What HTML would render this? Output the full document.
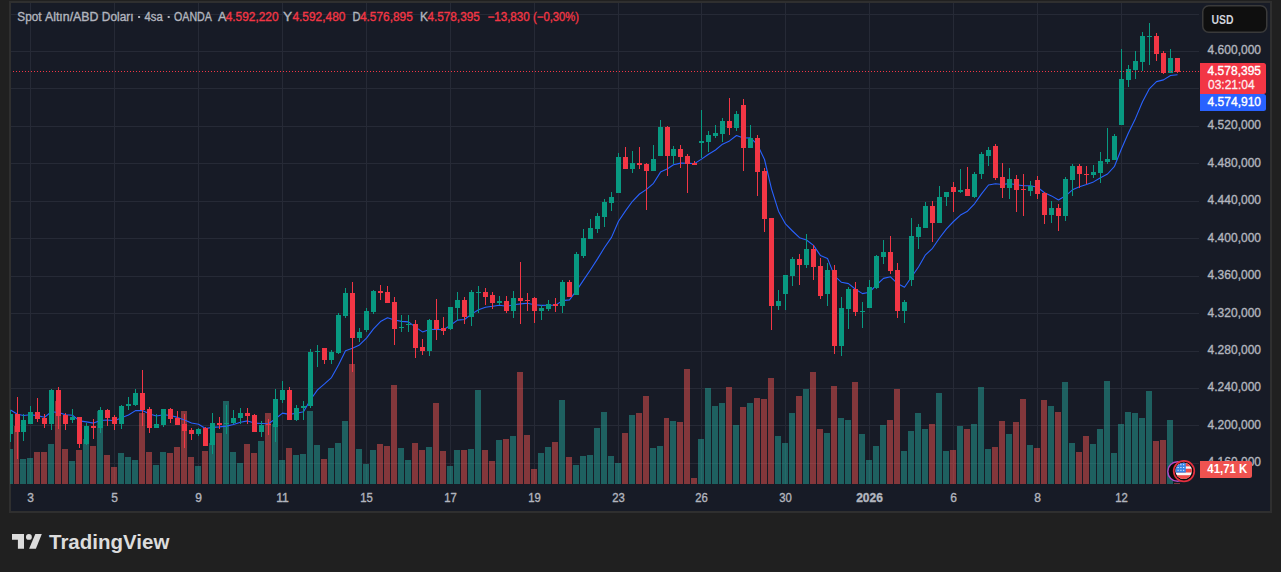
<!DOCTYPE html>
<html><head><meta charset="utf-8">
<style>
html,body{margin:0;padding:0;background:#202020;width:1281px;height:572px;overflow:hidden;}
#frame{position:absolute;left:9px;top:1px;width:1259px;height:508px;border:2px solid #2f2f2f;background:#171b26;}
svg{position:absolute;left:0;top:0;font-family:"Liberation Sans", sans-serif;}
text.t{stroke-width:0.35px;paint-order:stroke;}
</style></head><body>
<div id="frame"></div>
<svg width="1281" height="572" viewBox="0 0 1281 572">
<g shape-rendering="crispEdges">
<rect x="11" y="14" width="1188" height="1" fill="#262a36"/><rect x="11" y="51" width="1188" height="1" fill="#262a36"/><rect x="11" y="88" width="1188" height="1" fill="#262a36"/><rect x="11" y="126" width="1188" height="1" fill="#262a36"/><rect x="11" y="163" width="1188" height="1" fill="#262a36"/><rect x="11" y="201" width="1188" height="1" fill="#262a36"/><rect x="11" y="238" width="1188" height="1" fill="#262a36"/><rect x="11" y="276" width="1188" height="1" fill="#262a36"/><rect x="11" y="313" width="1188" height="1" fill="#262a36"/><rect x="11" y="351" width="1188" height="1" fill="#262a36"/><rect x="11" y="388" width="1188" height="1" fill="#262a36"/><rect x="11" y="425" width="1188" height="1" fill="#262a36"/><rect x="11" y="463" width="1188" height="1" fill="#262a36"/><rect x="30" y="3" width="1" height="481" fill="#262a36"/><rect x="114" y="3" width="1" height="481" fill="#262a36"/><rect x="198" y="3" width="1" height="481" fill="#262a36"/><rect x="282" y="3" width="1" height="481" fill="#262a36"/><rect x="366" y="3" width="1" height="481" fill="#262a36"/><rect x="450" y="3" width="1" height="481" fill="#262a36"/><rect x="534" y="3" width="1" height="481" fill="#262a36"/><rect x="618" y="3" width="1" height="481" fill="#262a36"/><rect x="701" y="3" width="1" height="481" fill="#262a36"/><rect x="785" y="3" width="1" height="481" fill="#262a36"/><rect x="869" y="3" width="1" height="481" fill="#262a36"/><rect x="953" y="3" width="1" height="481" fill="#262a36"/><rect x="1037" y="3" width="1" height="481" fill="#262a36"/><rect x="1121" y="3" width="1" height="481" fill="#262a36"/><rect x="10" y="449" width="3" height="35" fill="rgba(38,166,154,0.5)"/><rect x="14" y="426" width="5" height="58" fill="rgba(239,83,80,0.5)"/><rect x="20" y="459" width="6" height="25" fill="rgba(38,166,154,0.5)"/><rect x="27" y="458" width="6" height="26" fill="rgba(38,166,154,0.5)"/><rect x="34" y="452" width="6" height="32" fill="rgba(239,83,80,0.5)"/><rect x="41" y="452" width="6" height="32" fill="rgba(239,83,80,0.5)"/><rect x="48" y="444" width="6" height="40" fill="rgba(38,166,154,0.5)"/><rect x="55" y="401" width="6" height="83" fill="rgba(239,83,80,0.5)"/><rect x="62" y="449" width="6" height="35" fill="rgba(239,83,80,0.5)"/><rect x="69" y="461" width="6" height="23" fill="rgba(38,166,154,0.5)"/><rect x="76" y="450" width="6" height="34" fill="rgba(239,83,80,0.5)"/><rect x="83" y="439" width="6" height="45" fill="rgba(38,166,154,0.5)"/><rect x="90" y="446" width="6" height="38" fill="rgba(239,83,80,0.5)"/><rect x="97" y="411" width="6" height="73" fill="rgba(38,166,154,0.5)"/><rect x="104" y="455" width="6" height="29" fill="rgba(239,83,80,0.5)"/><rect x="111" y="467" width="6" height="17" fill="rgba(239,83,80,0.5)"/><rect x="118" y="453" width="6" height="31" fill="rgba(38,166,154,0.5)"/><rect x="125" y="457" width="6" height="27" fill="rgba(38,166,154,0.5)"/><rect x="132" y="460" width="6" height="24" fill="rgba(38,166,154,0.5)"/><rect x="139" y="413" width="6" height="71" fill="rgba(239,83,80,0.5)"/><rect x="146" y="452" width="6" height="32" fill="rgba(239,83,80,0.5)"/><rect x="153" y="465" width="6" height="19" fill="rgba(38,166,154,0.5)"/><rect x="160" y="452" width="6" height="32" fill="rgba(38,166,154,0.5)"/><rect x="167" y="453" width="6" height="31" fill="rgba(239,83,80,0.5)"/><rect x="174" y="447" width="6" height="37" fill="rgba(239,83,80,0.5)"/><rect x="181" y="411" width="6" height="73" fill="rgba(239,83,80,0.5)"/><rect x="188" y="457" width="6" height="27" fill="rgba(239,83,80,0.5)"/><rect x="195" y="466" width="6" height="18" fill="rgba(38,166,154,0.5)"/><rect x="202" y="451" width="6" height="33" fill="rgba(239,83,80,0.5)"/><rect x="209" y="443" width="6" height="41" fill="rgba(38,166,154,0.5)"/><rect x="216" y="433" width="6" height="51" fill="rgba(239,83,80,0.5)"/><rect x="223" y="401" width="6" height="83" fill="rgba(38,166,154,0.5)"/><rect x="230" y="452" width="6" height="32" fill="rgba(38,166,154,0.5)"/><rect x="237" y="463" width="6" height="21" fill="rgba(38,166,154,0.5)"/><rect x="244" y="444" width="6" height="40" fill="rgba(239,83,80,0.5)"/><rect x="251" y="453" width="6" height="31" fill="rgba(239,83,80,0.5)"/><rect x="258" y="441" width="6" height="43" fill="rgba(38,166,154,0.5)"/><rect x="265" y="413" width="6" height="71" fill="rgba(239,83,80,0.5)"/><rect x="272" y="424" width="6" height="60" fill="rgba(38,166,154,0.5)"/><rect x="279" y="460" width="6" height="24" fill="rgba(38,166,154,0.5)"/><rect x="286" y="448" width="6" height="36" fill="rgba(239,83,80,0.5)"/><rect x="293" y="455" width="6" height="29" fill="rgba(38,166,154,0.5)"/><rect x="300" y="454" width="6" height="30" fill="rgba(38,166,154,0.5)"/><rect x="307" y="411" width="6" height="73" fill="rgba(38,166,154,0.5)"/><rect x="314" y="445" width="6" height="39" fill="rgba(38,166,154,0.5)"/><rect x="321" y="459" width="6" height="25" fill="rgba(239,83,80,0.5)"/><rect x="328" y="448" width="6" height="36" fill="rgba(38,166,154,0.5)"/><rect x="335" y="443" width="6" height="41" fill="rgba(38,166,154,0.5)"/><rect x="342" y="421" width="6" height="63" fill="rgba(38,166,154,0.5)"/><rect x="349" y="364" width="6" height="120" fill="rgba(239,83,80,0.5)"/><rect x="356" y="449" width="6" height="35" fill="rgba(38,166,154,0.5)"/><rect x="363" y="464" width="6" height="20" fill="rgba(38,166,154,0.5)"/><rect x="370" y="450" width="6" height="34" fill="rgba(38,166,154,0.5)"/><rect x="377" y="444" width="6" height="40" fill="rgba(239,83,80,0.5)"/><rect x="384" y="446" width="6" height="38" fill="rgba(239,83,80,0.5)"/><rect x="391" y="385" width="6" height="99" fill="rgba(239,83,80,0.5)"/><rect x="398" y="448" width="6" height="36" fill="rgba(38,166,154,0.5)"/><rect x="405" y="460" width="6" height="24" fill="rgba(38,166,154,0.5)"/><rect x="412" y="443" width="6" height="41" fill="rgba(239,83,80,0.5)"/><rect x="419" y="450" width="6" height="34" fill="rgba(239,83,80,0.5)"/><rect x="426" y="447" width="6" height="37" fill="rgba(38,166,154,0.5)"/><rect x="433" y="403" width="6" height="81" fill="rgba(239,83,80,0.5)"/><rect x="440" y="451" width="6" height="33" fill="rgba(239,83,80,0.5)"/><rect x="447" y="466" width="6" height="18" fill="rgba(38,166,154,0.5)"/><rect x="454" y="450" width="6" height="34" fill="rgba(38,166,154,0.5)"/><rect x="461" y="450" width="6" height="34" fill="rgba(239,83,80,0.5)"/><rect x="468" y="449" width="6" height="35" fill="rgba(38,166,154,0.5)"/><rect x="475" y="390" width="6" height="94" fill="rgba(38,166,154,0.5)"/><rect x="482" y="450" width="6" height="34" fill="rgba(239,83,80,0.5)"/><rect x="489" y="461" width="6" height="23" fill="rgba(239,83,80,0.5)"/><rect x="496" y="440" width="6" height="44" fill="rgba(38,166,154,0.5)"/><rect x="503" y="439" width="6" height="45" fill="rgba(239,83,80,0.5)"/><rect x="510" y="436" width="6" height="48" fill="rgba(38,166,154,0.5)"/><rect x="517" y="372" width="6" height="112" fill="rgba(239,83,80,0.5)"/><rect x="524" y="435" width="6" height="49" fill="rgba(239,83,80,0.5)"/><rect x="531" y="469" width="6" height="15" fill="rgba(239,83,80,0.5)"/><rect x="538" y="453" width="6" height="31" fill="rgba(38,166,154,0.5)"/><rect x="545" y="447" width="6" height="37" fill="rgba(38,166,154,0.5)"/><rect x="552" y="442" width="6" height="42" fill="rgba(239,83,80,0.5)"/><rect x="559" y="400" width="6" height="84" fill="rgba(38,166,154,0.5)"/><rect x="566" y="457" width="6" height="27" fill="rgba(239,83,80,0.5)"/><rect x="573" y="465" width="6" height="19" fill="rgba(38,166,154,0.5)"/><rect x="580" y="456" width="6" height="28" fill="rgba(38,166,154,0.5)"/><rect x="587" y="455" width="6" height="29" fill="rgba(38,166,154,0.5)"/><rect x="594" y="428" width="6" height="56" fill="rgba(38,166,154,0.5)"/><rect x="601" y="412" width="6" height="72" fill="rgba(38,166,154,0.5)"/><rect x="608" y="456" width="6" height="28" fill="rgba(38,166,154,0.5)"/><rect x="615" y="463" width="6" height="21" fill="rgba(38,166,154,0.5)"/><rect x="622" y="433" width="6" height="51" fill="rgba(239,83,80,0.5)"/><rect x="629" y="415" width="6" height="69" fill="rgba(38,166,154,0.5)"/><rect x="636" y="413" width="6" height="71" fill="rgba(239,83,80,0.5)"/><rect x="643" y="396" width="6" height="88" fill="rgba(239,83,80,0.5)"/><rect x="650" y="448" width="6" height="36" fill="rgba(38,166,154,0.5)"/><rect x="657" y="446" width="6" height="38" fill="rgba(38,166,154,0.5)"/><rect x="664" y="418" width="5" height="66" fill="rgba(239,83,80,0.5)"/><rect x="670" y="421" width="6" height="63" fill="rgba(38,166,154,0.5)"/><rect x="677" y="422" width="6" height="62" fill="rgba(239,83,80,0.5)"/><rect x="684" y="369" width="6" height="115" fill="rgba(239,83,80,0.5)"/><rect x="691" y="478" width="6" height="6" fill="rgba(239,83,80,0.5)"/><rect x="698" y="439" width="6" height="45" fill="rgba(38,166,154,0.5)"/><rect x="705" y="388" width="6" height="96" fill="rgba(38,166,154,0.5)"/><rect x="712" y="406" width="6" height="78" fill="rgba(38,166,154,0.5)"/><rect x="719" y="403" width="6" height="81" fill="rgba(38,166,154,0.5)"/><rect x="726" y="387" width="6" height="97" fill="rgba(239,83,80,0.5)"/><rect x="733" y="425" width="6" height="59" fill="rgba(38,166,154,0.5)"/><rect x="740" y="407" width="6" height="77" fill="rgba(239,83,80,0.5)"/><rect x="747" y="403" width="6" height="81" fill="rgba(38,166,154,0.5)"/><rect x="754" y="398" width="6" height="86" fill="rgba(239,83,80,0.5)"/><rect x="761" y="399" width="6" height="85" fill="rgba(239,83,80,0.5)"/><rect x="768" y="378" width="6" height="106" fill="rgba(239,83,80,0.5)"/><rect x="775" y="436" width="6" height="48" fill="rgba(38,166,154,0.5)"/><rect x="782" y="443" width="6" height="41" fill="rgba(38,166,154,0.5)"/><rect x="789" y="413" width="6" height="71" fill="rgba(38,166,154,0.5)"/><rect x="796" y="396" width="6" height="88" fill="rgba(239,83,80,0.5)"/><rect x="803" y="389" width="6" height="95" fill="rgba(38,166,154,0.5)"/><rect x="810" y="372" width="6" height="112" fill="rgba(239,83,80,0.5)"/><rect x="817" y="429" width="6" height="55" fill="rgba(239,83,80,0.5)"/><rect x="824" y="433" width="6" height="51" fill="rgba(38,166,154,0.5)"/><rect x="831" y="386" width="6" height="98" fill="rgba(239,83,80,0.5)"/><rect x="838" y="418" width="6" height="66" fill="rgba(38,166,154,0.5)"/><rect x="845" y="420" width="6" height="64" fill="rgba(38,166,154,0.5)"/><rect x="852" y="382" width="6" height="102" fill="rgba(239,83,80,0.5)"/><rect x="859" y="434" width="6" height="50" fill="rgba(38,166,154,0.5)"/><rect x="866" y="460" width="6" height="24" fill="rgba(38,166,154,0.5)"/><rect x="873" y="446" width="6" height="38" fill="rgba(38,166,154,0.5)"/><rect x="880" y="425" width="6" height="59" fill="rgba(38,166,154,0.5)"/><rect x="887" y="420" width="6" height="64" fill="rgba(239,83,80,0.5)"/><rect x="894" y="389" width="6" height="95" fill="rgba(239,83,80,0.5)"/><rect x="901" y="451" width="6" height="33" fill="rgba(38,166,154,0.5)"/><rect x="908" y="431" width="6" height="53" fill="rgba(38,166,154,0.5)"/><rect x="915" y="413" width="6" height="71" fill="rgba(38,166,154,0.5)"/><rect x="922" y="429" width="6" height="55" fill="rgba(38,166,154,0.5)"/><rect x="929" y="424" width="6" height="60" fill="rgba(239,83,80,0.5)"/><rect x="936" y="393" width="6" height="91" fill="rgba(38,166,154,0.5)"/><rect x="943" y="451" width="6" height="33" fill="rgba(38,166,154,0.5)"/><rect x="950" y="450" width="6" height="34" fill="rgba(239,83,80,0.5)"/><rect x="957" y="426" width="6" height="58" fill="rgba(38,166,154,0.5)"/><rect x="964" y="429" width="6" height="55" fill="rgba(239,83,80,0.5)"/><rect x="971" y="424" width="6" height="60" fill="rgba(38,166,154,0.5)"/><rect x="978" y="387" width="6" height="97" fill="rgba(38,166,154,0.5)"/><rect x="985" y="449" width="6" height="35" fill="rgba(38,166,154,0.5)"/><rect x="992" y="447" width="6" height="37" fill="rgba(239,83,80,0.5)"/><rect x="999" y="421" width="6" height="63" fill="rgba(239,83,80,0.5)"/><rect x="1006" y="434" width="6" height="50" fill="rgba(38,166,154,0.5)"/><rect x="1013" y="422" width="6" height="62" fill="rgba(239,83,80,0.5)"/><rect x="1020" y="399" width="6" height="85" fill="rgba(239,83,80,0.5)"/><rect x="1027" y="445" width="6" height="39" fill="rgba(38,166,154,0.5)"/><rect x="1034" y="448" width="6" height="36" fill="rgba(239,83,80,0.5)"/><rect x="1041" y="400" width="6" height="84" fill="rgba(239,83,80,0.5)"/><rect x="1048" y="406" width="6" height="78" fill="rgba(38,166,154,0.5)"/><rect x="1055" y="412" width="6" height="72" fill="rgba(239,83,80,0.5)"/><rect x="1062" y="382" width="6" height="102" fill="rgba(38,166,154,0.5)"/><rect x="1069" y="443" width="6" height="41" fill="rgba(38,166,154,0.5)"/><rect x="1076" y="452" width="6" height="32" fill="rgba(239,83,80,0.5)"/><rect x="1083" y="436" width="6" height="48" fill="rgba(239,83,80,0.5)"/><rect x="1090" y="444" width="6" height="40" fill="rgba(38,166,154,0.5)"/><rect x="1097" y="429" width="6" height="55" fill="rgba(38,166,154,0.5)"/><rect x="1104" y="381" width="6" height="103" fill="rgba(38,166,154,0.5)"/><rect x="1111" y="453" width="6" height="31" fill="rgba(38,166,154,0.5)"/><rect x="1118" y="424" width="6" height="60" fill="rgba(38,166,154,0.5)"/><rect x="1125" y="412" width="6" height="72" fill="rgba(38,166,154,0.5)"/><rect x="1132" y="413" width="6" height="71" fill="rgba(38,166,154,0.5)"/><rect x="1139" y="418" width="6" height="66" fill="rgba(38,166,154,0.5)"/><rect x="1146" y="391" width="6" height="93" fill="rgba(38,166,154,0.5)"/><rect x="1153" y="441" width="6" height="43" fill="rgba(239,83,80,0.5)"/><rect x="1160" y="440" width="6" height="44" fill="rgba(239,83,80,0.5)"/><rect x="1167" y="420" width="6" height="64" fill="rgba(38,166,154,0.5)"/><rect x="1174" y="483" width="6" height="1" fill="rgba(239,83,80,0.5)"/>
</g>
<polyline points="10.5,410.0 17.5,414.3 23.5,415.5 30.5,414.8 37.5,415.6 44.5,417.2 51.5,411.7 58.5,412.5 65.5,414.8 72.5,415.2 79.5,420.9 86.5,421.9 93.5,423.1 100.5,420.5 107.5,420.0 114.5,420.8 121.5,417.8 128.5,415.0 135.5,410.6 142.5,410.5 149.5,414.0 156.5,416.0 163.5,414.7 170.5,415.5 177.5,417.4 184.5,420.1 191.5,423.0 198.5,424.2 205.5,428.5 212.5,427.4 219.5,426.9 226.5,426.1 233.5,424.5 240.5,422.2 247.5,420.9 254.5,423.1 261.5,423.5 268.5,423.8 275.5,418.8 282.5,413.1 289.5,414.4 296.5,413.2 303.5,411.8 310.5,399.7 317.5,389.9 324.5,383.9 331.5,377.6 338.5,365.1 345.5,350.7 352.5,348.2 359.5,344.9 366.5,338.2 373.5,328.8 380.5,321.6 387.5,317.8 394.5,320.0 401.5,321.4 408.5,321.9 415.5,327.1 422.5,331.9 429.5,329.5 436.5,329.4 443.5,329.7 450.5,325.2 457.5,320.1 464.5,319.5 471.5,314.1 478.5,309.7 485.5,307.2 492.5,306.3 499.5,305.2 506.5,306.3 513.5,304.7 520.5,303.9 527.5,303.3 534.5,304.8 541.5,305.4 548.5,305.2 555.5,305.3 562.5,300.6 569.5,299.9 576.5,290.6 583.5,280.1 590.5,269.7 597.5,258.9 604.5,247.5 611.5,237.4 618.5,221.3 625.5,210.9 632.5,201.3 639.5,194.0 646.5,189.4 653.5,183.3 660.5,172.1 667.5,168.8 673.5,164.7 680.5,163.1 687.5,163.3 694.5,163.6 701.5,159.1 708.5,154.2 715.5,150.0 722.5,144.2 729.5,140.9 736.5,135.5 743.5,138.0 750.5,137.9 757.5,144.7 764.5,159.5 771.5,188.8 778.5,211.2 785.5,223.9 792.5,231.0 799.5,237.7 806.5,240.0 813.5,245.4 820.5,255.6 827.5,258.4 834.5,275.9 841.5,282.3 848.5,283.6 855.5,289.3 862.5,293.6 869.5,292.2 876.5,285.0 883.5,278.4 890.5,276.8 897.5,283.6 904.5,287.3 911.5,277.0 918.5,267.0 925.5,254.8 932.5,248.3 939.5,238.0 946.5,228.8 953.5,221.5 960.5,215.1 967.5,211.2 974.5,203.8 981.5,193.9 988.5,185.0 995.5,183.7 1002.5,184.5 1009.5,183.5 1016.5,184.7 1023.5,185.8 1030.5,185.8 1037.5,187.3 1044.5,192.8 1051.5,195.9 1058.5,200.0 1065.5,195.8 1072.5,189.8 1079.5,186.7 1086.5,184.4 1093.5,181.9 1100.5,177.7 1107.5,174.0 1114.5,166.3 1121.5,148.8 1128.5,132.8 1135.5,118.4 1142.5,101.8 1149.5,88.6 1156.5,81.6 1163.5,79.9 1170.5,75.5 1177.5,74.8" fill="none" stroke="#2962ff" stroke-width="1.1" stroke-linejoin="round"/>
<g shape-rendering="crispEdges">
<rect x="10" y="410" width="1" height="32" fill="#089981"/><rect x="10" y="414" width="3" height="20" fill="#089981"/><rect x="17" y="397" width="1" height="62" fill="#f23645"/><rect x="15" y="414" width="5" height="18" fill="#f23645"/><rect x="23" y="414" width="1" height="27" fill="#089981"/><rect x="21" y="420" width="5" height="12" fill="#089981"/><rect x="30" y="406" width="1" height="18" fill="#089981"/><rect x="28" y="412" width="5" height="12" fill="#089981"/><rect x="37" y="398" width="1" height="24" fill="#f23645"/><rect x="35" y="412" width="5" height="7" fill="#f23645"/><rect x="44" y="414" width="1" height="14" fill="#f23645"/><rect x="42" y="418" width="5" height="6" fill="#f23645"/><rect x="51" y="389" width="1" height="41" fill="#089981"/><rect x="49" y="390" width="5" height="34" fill="#089981"/><rect x="58" y="387" width="1" height="42" fill="#f23645"/><rect x="56" y="390" width="5" height="26" fill="#f23645"/><rect x="65" y="413" width="1" height="17" fill="#f23645"/><rect x="63" y="415" width="5" height="9" fill="#f23645"/><rect x="72" y="409" width="1" height="14" fill="#089981"/><rect x="70" y="417" width="5" height="3" fill="#089981"/><rect x="79" y="417" width="1" height="31" fill="#f23645"/><rect x="77" y="417" width="5" height="27" fill="#f23645"/><rect x="86" y="423" width="1" height="22" fill="#089981"/><rect x="84" y="426" width="5" height="18" fill="#089981"/><rect x="93" y="419" width="1" height="20" fill="#f23645"/><rect x="91" y="426" width="5" height="2" fill="#f23645"/><rect x="100" y="407" width="1" height="26" fill="#089981"/><rect x="98" y="410" width="5" height="18" fill="#089981"/><rect x="107" y="409" width="1" height="17" fill="#f23645"/><rect x="105" y="410" width="5" height="8" fill="#f23645"/><rect x="114" y="415" width="1" height="15" fill="#f23645"/><rect x="112" y="417" width="5" height="7" fill="#f23645"/><rect x="121" y="405" width="1" height="24" fill="#089981"/><rect x="119" y="406" width="5" height="18" fill="#089981"/><rect x="128" y="397" width="1" height="13" fill="#089981"/><rect x="126" y="404" width="5" height="2" fill="#089981"/><rect x="135" y="389" width="1" height="17" fill="#089981"/><rect x="133" y="393" width="5" height="12" fill="#089981"/><rect x="142" y="370" width="1" height="56" fill="#f23645"/><rect x="140" y="393" width="5" height="17" fill="#f23645"/><rect x="149" y="407" width="1" height="26" fill="#f23645"/><rect x="147" y="409" width="5" height="19" fill="#f23645"/><rect x="156" y="414" width="1" height="14" fill="#089981"/><rect x="154" y="424" width="5" height="4" fill="#089981"/><rect x="163" y="409" width="1" height="18" fill="#089981"/><rect x="161" y="409" width="5" height="16" fill="#089981"/><rect x="170" y="408" width="1" height="15" fill="#f23645"/><rect x="168" y="409" width="5" height="10" fill="#f23645"/><rect x="177" y="411" width="1" height="14" fill="#f23645"/><rect x="175" y="418" width="5" height="7" fill="#f23645"/><rect x="184" y="414" width="1" height="34" fill="#f23645"/><rect x="182" y="424" width="5" height="7" fill="#f23645"/><rect x="191" y="428" width="1" height="12" fill="#f23645"/><rect x="189" y="430" width="5" height="4" fill="#f23645"/><rect x="198" y="428" width="1" height="8" fill="#089981"/><rect x="196" y="429" width="5" height="5" fill="#089981"/><rect x="205" y="427" width="1" height="19" fill="#f23645"/><rect x="203" y="428" width="5" height="18" fill="#f23645"/><rect x="212" y="413" width="1" height="41" fill="#089981"/><rect x="210" y="423" width="5" height="22" fill="#089981"/><rect x="219" y="417" width="1" height="12" fill="#f23645"/><rect x="217" y="423" width="5" height="2" fill="#f23645"/><rect x="226" y="405" width="1" height="29" fill="#089981"/><rect x="224" y="423" width="5" height="1" fill="#089981"/><rect x="233" y="410" width="1" height="14" fill="#089981"/><rect x="231" y="418" width="5" height="5" fill="#089981"/><rect x="240" y="408" width="1" height="16" fill="#089981"/><rect x="238" y="413" width="5" height="5" fill="#089981"/><rect x="247" y="408" width="1" height="16" fill="#f23645"/><rect x="245" y="413" width="5" height="3" fill="#f23645"/><rect x="254" y="414" width="1" height="18" fill="#f23645"/><rect x="252" y="415" width="5" height="17" fill="#f23645"/><rect x="261" y="421" width="1" height="16" fill="#089981"/><rect x="259" y="425" width="5" height="7" fill="#089981"/><rect x="268" y="419" width="1" height="16" fill="#f23645"/><rect x="266" y="424" width="5" height="1" fill="#f23645"/><rect x="275" y="389" width="1" height="53" fill="#089981"/><rect x="273" y="399" width="5" height="28" fill="#089981"/><rect x="282" y="381" width="1" height="22" fill="#089981"/><rect x="280" y="390" width="5" height="10" fill="#089981"/><rect x="289" y="387" width="1" height="33" fill="#f23645"/><rect x="287" y="390" width="5" height="30" fill="#f23645"/><rect x="296" y="405" width="1" height="16" fill="#089981"/><rect x="294" y="408" width="5" height="12" fill="#089981"/><rect x="303" y="401" width="1" height="19" fill="#089981"/><rect x="301" y="406" width="5" height="2" fill="#089981"/><rect x="310" y="349" width="1" height="59" fill="#089981"/><rect x="308" y="352" width="5" height="54" fill="#089981"/><rect x="317" y="345" width="1" height="22" fill="#089981"/><rect x="315" y="351" width="5" height="1" fill="#089981"/><rect x="324" y="348" width="1" height="16" fill="#f23645"/><rect x="322" y="348" width="5" height="12" fill="#f23645"/><rect x="331" y="350" width="1" height="14" fill="#089981"/><rect x="329" y="352" width="5" height="8" fill="#089981"/><rect x="338" y="313" width="1" height="41" fill="#089981"/><rect x="336" y="315" width="5" height="38" fill="#089981"/><rect x="345" y="288" width="1" height="30" fill="#089981"/><rect x="343" y="293" width="5" height="23" fill="#089981"/><rect x="352" y="282" width="1" height="90" fill="#f23645"/><rect x="350" y="293" width="5" height="45" fill="#f23645"/><rect x="359" y="328" width="1" height="14" fill="#089981"/><rect x="357" y="332" width="5" height="6" fill="#089981"/><rect x="366" y="308" width="1" height="24" fill="#089981"/><rect x="364" y="311" width="5" height="19" fill="#089981"/><rect x="373" y="290" width="1" height="24" fill="#089981"/><rect x="371" y="291" width="5" height="21" fill="#089981"/><rect x="380" y="285" width="1" height="15" fill="#f23645"/><rect x="378" y="291" width="5" height="2" fill="#f23645"/><rect x="387" y="286" width="1" height="17" fill="#f23645"/><rect x="385" y="292" width="5" height="11" fill="#f23645"/><rect x="394" y="297" width="1" height="48" fill="#f23645"/><rect x="392" y="302" width="5" height="27" fill="#f23645"/><rect x="401" y="315" width="1" height="17" fill="#089981"/><rect x="399" y="327" width="5" height="1" fill="#089981"/><rect x="408" y="315" width="1" height="17" fill="#089981"/><rect x="406" y="324" width="5" height="1" fill="#089981"/><rect x="415" y="320" width="1" height="38" fill="#f23645"/><rect x="413" y="324" width="5" height="24" fill="#f23645"/><rect x="422" y="339" width="1" height="16" fill="#f23645"/><rect x="420" y="347" width="5" height="4" fill="#f23645"/><rect x="429" y="319" width="1" height="37" fill="#089981"/><rect x="427" y="320" width="5" height="31" fill="#089981"/><rect x="436" y="299" width="1" height="41" fill="#f23645"/><rect x="434" y="320" width="5" height="9" fill="#f23645"/><rect x="443" y="317" width="1" height="18" fill="#f23645"/><rect x="441" y="328" width="5" height="3" fill="#f23645"/><rect x="450" y="307" width="1" height="23" fill="#089981"/><rect x="448" y="307" width="5" height="22" fill="#089981"/><rect x="457" y="292" width="1" height="29" fill="#089981"/><rect x="455" y="300" width="5" height="8" fill="#089981"/><rect x="464" y="297" width="1" height="27" fill="#f23645"/><rect x="462" y="300" width="5" height="17" fill="#f23645"/><rect x="471" y="290" width="1" height="36" fill="#089981"/><rect x="469" y="292" width="5" height="25" fill="#089981"/><rect x="478" y="286" width="1" height="27" fill="#089981"/><rect x="476" y="292" width="5" height="1" fill="#089981"/><rect x="485" y="288" width="1" height="17" fill="#f23645"/><rect x="483" y="292" width="5" height="5" fill="#f23645"/><rect x="492" y="292" width="1" height="17" fill="#f23645"/><rect x="490" y="295" width="5" height="8" fill="#f23645"/><rect x="499" y="296" width="1" height="9" fill="#089981"/><rect x="497" y="301" width="5" height="2" fill="#089981"/><rect x="506" y="296" width="1" height="17" fill="#f23645"/><rect x="504" y="301" width="5" height="10" fill="#f23645"/><rect x="513" y="291" width="1" height="27" fill="#089981"/><rect x="511" y="298" width="5" height="13" fill="#089981"/><rect x="520" y="262" width="1" height="62" fill="#f23645"/><rect x="518" y="298" width="5" height="3" fill="#f23645"/><rect x="527" y="293" width="1" height="18" fill="#f23645"/><rect x="525" y="300" width="5" height="1" fill="#f23645"/><rect x="534" y="297" width="1" height="26" fill="#f23645"/><rect x="532" y="298" width="5" height="13" fill="#f23645"/><rect x="541" y="305" width="1" height="15" fill="#089981"/><rect x="539" y="308" width="5" height="3" fill="#089981"/><rect x="548" y="300" width="1" height="11" fill="#089981"/><rect x="546" y="304" width="5" height="5" fill="#089981"/><rect x="555" y="298" width="1" height="14" fill="#f23645"/><rect x="553" y="304" width="5" height="2" fill="#f23645"/><rect x="562" y="280" width="1" height="33" fill="#089981"/><rect x="560" y="282" width="5" height="24" fill="#089981"/><rect x="569" y="280" width="1" height="17" fill="#f23645"/><rect x="567" y="282" width="5" height="15" fill="#f23645"/><rect x="576" y="252" width="1" height="43" fill="#089981"/><rect x="574" y="254" width="5" height="41" fill="#089981"/><rect x="583" y="229" width="1" height="29" fill="#089981"/><rect x="581" y="238" width="5" height="18" fill="#089981"/><rect x="590" y="219" width="1" height="20" fill="#089981"/><rect x="588" y="228" width="5" height="11" fill="#089981"/><rect x="597" y="213" width="1" height="20" fill="#089981"/><rect x="595" y="216" width="5" height="13" fill="#089981"/><rect x="604" y="199" width="1" height="28" fill="#089981"/><rect x="602" y="202" width="5" height="15" fill="#089981"/><rect x="611" y="192" width="1" height="19" fill="#089981"/><rect x="609" y="197" width="5" height="6" fill="#089981"/><rect x="618" y="153" width="1" height="40" fill="#089981"/><rect x="616" y="157" width="5" height="36" fill="#089981"/><rect x="625" y="147" width="1" height="22" fill="#f23645"/><rect x="623" y="157" width="5" height="12" fill="#f23645"/><rect x="632" y="151" width="1" height="22" fill="#089981"/><rect x="630" y="163" width="5" height="6" fill="#089981"/><rect x="639" y="147" width="1" height="22" fill="#f23645"/><rect x="637" y="163" width="5" height="2" fill="#f23645"/><rect x="646" y="163" width="1" height="47" fill="#f23645"/><rect x="644" y="164" width="5" height="7" fill="#f23645"/><rect x="653" y="145" width="1" height="26" fill="#089981"/><rect x="651" y="159" width="5" height="12" fill="#089981"/><rect x="660" y="120" width="1" height="36" fill="#089981"/><rect x="658" y="127" width="5" height="29" fill="#089981"/><rect x="667" y="126" width="1" height="50" fill="#f23645"/><rect x="665" y="127" width="5" height="29" fill="#f23645"/><rect x="673" y="146" width="1" height="18" fill="#089981"/><rect x="671" y="149" width="5" height="7" fill="#089981"/><rect x="680" y="145" width="1" height="23" fill="#f23645"/><rect x="678" y="149" width="5" height="8" fill="#f23645"/><rect x="687" y="154" width="1" height="39" fill="#f23645"/><rect x="685" y="156" width="5" height="8" fill="#f23645"/><rect x="694" y="161" width="1" height="4" fill="#f23645"/><rect x="692" y="163" width="5" height="2" fill="#f23645"/><rect x="701" y="110" width="1" height="48" fill="#089981"/><rect x="699" y="141" width="5" height="2" fill="#089981"/><rect x="708" y="131" width="1" height="21" fill="#089981"/><rect x="706" y="135" width="5" height="7" fill="#089981"/><rect x="715" y="125" width="1" height="13" fill="#089981"/><rect x="713" y="133" width="5" height="3" fill="#089981"/><rect x="722" y="118" width="1" height="24" fill="#089981"/><rect x="720" y="121" width="5" height="13" fill="#089981"/><rect x="729" y="98" width="1" height="37" fill="#f23645"/><rect x="727" y="121" width="5" height="7" fill="#f23645"/><rect x="736" y="111" width="1" height="20" fill="#089981"/><rect x="734" y="114" width="5" height="14" fill="#089981"/><rect x="743" y="99" width="1" height="72" fill="#f23645"/><rect x="741" y="105" width="5" height="43" fill="#f23645"/><rect x="750" y="125" width="1" height="23" fill="#089981"/><rect x="748" y="138" width="5" height="10" fill="#089981"/><rect x="757" y="135" width="1" height="61" fill="#f23645"/><rect x="755" y="138" width="5" height="34" fill="#f23645"/><rect x="764" y="168" width="1" height="64" fill="#f23645"/><rect x="762" y="171" width="5" height="48" fill="#f23645"/><rect x="771" y="218" width="1" height="112" fill="#f23645"/><rect x="769" y="218" width="5" height="88" fill="#f23645"/><rect x="778" y="290" width="1" height="20" fill="#089981"/><rect x="776" y="301" width="5" height="5" fill="#089981"/><rect x="785" y="275" width="1" height="35" fill="#089981"/><rect x="783" y="275" width="5" height="19" fill="#089981"/><rect x="792" y="257" width="1" height="29" fill="#089981"/><rect x="790" y="259" width="5" height="17" fill="#089981"/><rect x="799" y="254" width="1" height="31" fill="#f23645"/><rect x="797" y="259" width="5" height="6" fill="#f23645"/><rect x="806" y="234" width="1" height="34" fill="#089981"/><rect x="804" y="249" width="5" height="16" fill="#089981"/><rect x="813" y="245" width="1" height="35" fill="#f23645"/><rect x="811" y="249" width="5" height="18" fill="#f23645"/><rect x="820" y="258" width="1" height="41" fill="#f23645"/><rect x="818" y="266" width="5" height="30" fill="#f23645"/><rect x="827" y="263" width="1" height="43" fill="#089981"/><rect x="825" y="270" width="5" height="24" fill="#089981"/><rect x="834" y="265" width="1" height="89" fill="#f23645"/><rect x="832" y="270" width="5" height="76" fill="#f23645"/><rect x="841" y="297" width="1" height="59" fill="#089981"/><rect x="839" y="308" width="5" height="38" fill="#089981"/><rect x="848" y="287" width="1" height="42" fill="#089981"/><rect x="846" y="289" width="5" height="20" fill="#089981"/><rect x="855" y="282" width="1" height="34" fill="#f23645"/><rect x="853" y="289" width="5" height="23" fill="#f23645"/><rect x="862" y="302" width="1" height="26" fill="#089981"/><rect x="860" y="311" width="5" height="1" fill="#089981"/><rect x="869" y="280" width="1" height="28" fill="#089981"/><rect x="867" y="287" width="5" height="21" fill="#089981"/><rect x="876" y="255" width="1" height="34" fill="#089981"/><rect x="874" y="256" width="5" height="32" fill="#089981"/><rect x="883" y="240" width="1" height="24" fill="#089981"/><rect x="881" y="252" width="5" height="5" fill="#089981"/><rect x="890" y="236" width="1" height="38" fill="#f23645"/><rect x="888" y="252" width="5" height="19" fill="#f23645"/><rect x="897" y="263" width="1" height="55" fill="#f23645"/><rect x="895" y="270" width="5" height="41" fill="#f23645"/><rect x="904" y="300" width="1" height="23" fill="#089981"/><rect x="902" y="302" width="5" height="9" fill="#089981"/><rect x="911" y="218" width="1" height="68" fill="#089981"/><rect x="909" y="236" width="5" height="44" fill="#089981"/><rect x="918" y="224" width="1" height="25" fill="#089981"/><rect x="916" y="227" width="5" height="10" fill="#089981"/><rect x="925" y="202" width="1" height="26" fill="#089981"/><rect x="923" y="206" width="5" height="22" fill="#089981"/><rect x="932" y="201" width="1" height="41" fill="#f23645"/><rect x="930" y="206" width="5" height="17" fill="#f23645"/><rect x="939" y="186" width="1" height="37" fill="#089981"/><rect x="937" y="197" width="5" height="26" fill="#089981"/><rect x="946" y="192" width="1" height="14" fill="#089981"/><rect x="944" y="192" width="5" height="5" fill="#089981"/><rect x="953" y="182" width="1" height="30" fill="#f23645"/><rect x="951" y="187" width="5" height="5" fill="#f23645"/><rect x="960" y="169" width="1" height="24" fill="#089981"/><rect x="958" y="190" width="5" height="2" fill="#089981"/><rect x="967" y="167" width="1" height="29" fill="#f23645"/><rect x="965" y="189" width="5" height="7" fill="#f23645"/><rect x="974" y="172" width="1" height="26" fill="#089981"/><rect x="972" y="174" width="5" height="23" fill="#089981"/><rect x="981" y="152" width="1" height="27" fill="#089981"/><rect x="979" y="154" width="5" height="20" fill="#089981"/><rect x="988" y="147" width="1" height="19" fill="#089981"/><rect x="986" y="150" width="5" height="6" fill="#089981"/><rect x="995" y="144" width="1" height="36" fill="#f23645"/><rect x="993" y="146" width="5" height="32" fill="#f23645"/><rect x="1002" y="163" width="1" height="35" fill="#f23645"/><rect x="1000" y="177" width="5" height="11" fill="#f23645"/><rect x="1009" y="168" width="1" height="31" fill="#089981"/><rect x="1007" y="179" width="5" height="9" fill="#089981"/><rect x="1016" y="175" width="1" height="37" fill="#f23645"/><rect x="1014" y="179" width="5" height="11" fill="#f23645"/><rect x="1023" y="174" width="1" height="42" fill="#f23645"/><rect x="1021" y="189" width="5" height="1" fill="#f23645"/><rect x="1030" y="181" width="1" height="15" fill="#089981"/><rect x="1028" y="186" width="5" height="5" fill="#089981"/><rect x="1037" y="176" width="1" height="23" fill="#f23645"/><rect x="1035" y="180" width="5" height="14" fill="#f23645"/><rect x="1044" y="192" width="1" height="32" fill="#f23645"/><rect x="1042" y="193" width="5" height="22" fill="#f23645"/><rect x="1051" y="201" width="1" height="22" fill="#089981"/><rect x="1049" y="208" width="5" height="7" fill="#089981"/><rect x="1058" y="204" width="1" height="27" fill="#f23645"/><rect x="1056" y="208" width="5" height="8" fill="#f23645"/><rect x="1065" y="177" width="1" height="44" fill="#089981"/><rect x="1063" y="179" width="5" height="37" fill="#089981"/><rect x="1072" y="164" width="1" height="32" fill="#089981"/><rect x="1070" y="166" width="5" height="14" fill="#089981"/><rect x="1079" y="164" width="1" height="24" fill="#f23645"/><rect x="1077" y="166" width="5" height="8" fill="#f23645"/><rect x="1086" y="166" width="1" height="18" fill="#f23645"/><rect x="1084" y="174" width="5" height="1" fill="#f23645"/><rect x="1093" y="165" width="1" height="13" fill="#089981"/><rect x="1091" y="172" width="5" height="3" fill="#089981"/><rect x="1100" y="152" width="1" height="31" fill="#089981"/><rect x="1098" y="161" width="5" height="12" fill="#089981"/><rect x="1107" y="128" width="1" height="36" fill="#089981"/><rect x="1105" y="159" width="5" height="3" fill="#089981"/><rect x="1114" y="134" width="1" height="26" fill="#089981"/><rect x="1112" y="136" width="5" height="24" fill="#089981"/><rect x="1121" y="49" width="1" height="76" fill="#089981"/><rect x="1119" y="79" width="5" height="46" fill="#089981"/><rect x="1128" y="65" width="1" height="22" fill="#089981"/><rect x="1126" y="69" width="5" height="11" fill="#089981"/><rect x="1135" y="51" width="1" height="28" fill="#089981"/><rect x="1133" y="61" width="5" height="9" fill="#089981"/><rect x="1142" y="32" width="1" height="39" fill="#089981"/><rect x="1140" y="36" width="5" height="26" fill="#089981"/><rect x="1149" y="23" width="1" height="42" fill="#089981"/><rect x="1147" y="36" width="5" height="1" fill="#089981"/><rect x="1156" y="33" width="1" height="28" fill="#f23645"/><rect x="1154" y="36" width="5" height="18" fill="#f23645"/><rect x="1163" y="51" width="1" height="23" fill="#f23645"/><rect x="1161" y="53" width="5" height="20" fill="#f23645"/><rect x="1170" y="49" width="1" height="24" fill="#089981"/><rect x="1168" y="58" width="5" height="15" fill="#089981"/><rect x="1177" y="58" width="1" height="15" fill="#f23645"/><rect x="1175" y="58" width="5" height="14" fill="#f23645"/>
</g>
<line x1="11" y1="71.5" x2="1199" y2="71.5" stroke="#f23645" stroke-width="1" stroke-dasharray="1 2" stroke-dashoffset="-2"/>
<text class="t" x="1261" y="54.4" text-anchor="end" fill="#b2b5be" stroke="#b2b5be" font-size="12">4.600,000</text><text class="t" x="1261" y="129.3" text-anchor="end" fill="#b2b5be" stroke="#b2b5be" font-size="12">4.520,000</text><text class="t" x="1261" y="166.7" text-anchor="end" fill="#b2b5be" stroke="#b2b5be" font-size="12">4.480,000</text><text class="t" x="1261" y="204.2" text-anchor="end" fill="#b2b5be" stroke="#b2b5be" font-size="12">4.440,000</text><text class="t" x="1261" y="241.6" text-anchor="end" fill="#b2b5be" stroke="#b2b5be" font-size="12">4.400,000</text><text class="t" x="1261" y="279.0" text-anchor="end" fill="#b2b5be" stroke="#b2b5be" font-size="12">4.360,000</text><text class="t" x="1261" y="316.5" text-anchor="end" fill="#b2b5be" stroke="#b2b5be" font-size="12">4.320,000</text><text class="t" x="1261" y="353.9" text-anchor="end" fill="#b2b5be" stroke="#b2b5be" font-size="12">4.280,000</text><text class="t" x="1261" y="391.3" text-anchor="end" fill="#b2b5be" stroke="#b2b5be" font-size="12">4.240,000</text><text class="t" x="1261" y="428.8" text-anchor="end" fill="#b2b5be" stroke="#b2b5be" font-size="12">4.200,000</text><text class="t" x="1261" y="466.2" text-anchor="end" fill="#b2b5be" stroke="#b2b5be" font-size="12">4.160,000</text><text class="t" x="30.5" y="502" text-anchor="middle" fill="#b2b5be" stroke="#b2b5be" font-size="12">3</text><text class="t" x="114.5" y="502" text-anchor="middle" fill="#b2b5be" stroke="#b2b5be" font-size="12">5</text><text class="t" x="198.5" y="502" text-anchor="middle" fill="#b2b5be" stroke="#b2b5be" font-size="12">9</text><text class="t" x="282.5" y="502" text-anchor="middle" fill="#b2b5be" stroke="#b2b5be" font-size="12" textLength="12.6" lengthAdjust="spacingAndGlyphs">11</text><text class="t" x="366.5" y="502" text-anchor="middle" fill="#b2b5be" stroke="#b2b5be" font-size="12" textLength="12.6" lengthAdjust="spacingAndGlyphs">15</text><text class="t" x="450.5" y="502" text-anchor="middle" fill="#b2b5be" stroke="#b2b5be" font-size="12" textLength="12.6" lengthAdjust="spacingAndGlyphs">17</text><text class="t" x="534.5" y="502" text-anchor="middle" fill="#b2b5be" stroke="#b2b5be" font-size="12" textLength="12.6" lengthAdjust="spacingAndGlyphs">19</text><text class="t" x="618.5" y="502" text-anchor="middle" fill="#b2b5be" stroke="#b2b5be" font-size="12" textLength="12.6" lengthAdjust="spacingAndGlyphs">23</text><text class="t" x="701.5" y="502" text-anchor="middle" fill="#b2b5be" stroke="#b2b5be" font-size="12" textLength="12.6" lengthAdjust="spacingAndGlyphs">26</text><text class="t" x="785.5" y="502" text-anchor="middle" fill="#b2b5be" stroke="#b2b5be" font-size="12" textLength="12.6" lengthAdjust="spacingAndGlyphs">30</text><text class="t" x="869.5" y="502" text-anchor="middle" fill="#b2b5be" stroke="#b2b5be" font-size="12" font-weight="bold">2026</text><text class="t" x="953.5" y="502" text-anchor="middle" fill="#b2b5be" stroke="#b2b5be" font-size="12">6</text><text class="t" x="1037.5" y="502" text-anchor="middle" fill="#b2b5be" stroke="#b2b5be" font-size="12">8</text><text class="t" x="1121.5" y="502" text-anchor="middle" fill="#b2b5be" stroke="#b2b5be" font-size="12" textLength="12.6" lengthAdjust="spacingAndGlyphs">12</text>
<rect x="138.1" y="16" width="2" height="2" fill="#b2b5be"/><rect x="167.7" y="16" width="2" height="2" fill="#b2b5be"/><text class="t" x="17.3" y="21" fill="#b2b5be" stroke="#b2b5be" font-size="12" textLength="24.2" lengthAdjust="spacingAndGlyphs">Spot</text><text class="t" x="45.0" y="21" fill="#b2b5be" stroke="#b2b5be" font-size="12" textLength="53.4" lengthAdjust="spacingAndGlyphs">Altın/ABD</text><text class="t" x="101.8" y="21" fill="#b2b5be" stroke="#b2b5be" font-size="12" textLength="31.7" lengthAdjust="spacingAndGlyphs">Doları</text><text class="t" x="144.5" y="21" fill="#b2b5be" stroke="#b2b5be" font-size="12" textLength="18.2" lengthAdjust="spacingAndGlyphs">4sa</text><text class="t" x="174.0" y="21" fill="#b2b5be" stroke="#b2b5be" font-size="12" textLength="37.9" lengthAdjust="spacingAndGlyphs">OANDA</text><text class="t" x="217.9" y="21" fill="#b2b5be" stroke="#b2b5be" font-size="12" textLength="8.5" lengthAdjust="spacingAndGlyphs">A</text><text class="t" x="225.7" y="21" fill="#f23645" stroke="#f23645" font-size="12" textLength="52.9" lengthAdjust="spacingAndGlyphs">4.592,220</text><text class="t" x="282.9" y="21" fill="#b2b5be" stroke="#b2b5be" font-size="12" textLength="9.2" lengthAdjust="spacingAndGlyphs">Y</text><text class="t" x="292.4" y="21" fill="#f23645" stroke="#f23645" font-size="12" textLength="53.0" lengthAdjust="spacingAndGlyphs">4.592,480</text><text class="t" x="352.4" y="21" fill="#b2b5be" stroke="#b2b5be" font-size="12" textLength="8.0" lengthAdjust="spacingAndGlyphs">D</text><text class="t" x="359.9" y="21" fill="#f23645" stroke="#f23645" font-size="12" textLength="52.9" lengthAdjust="spacingAndGlyphs">4.576,895</text><text class="t" x="419.9" y="21" fill="#b2b5be" stroke="#b2b5be" font-size="12" textLength="8.1" lengthAdjust="spacingAndGlyphs">K</text><text class="t" x="427.4" y="21" fill="#f23645" stroke="#f23645" font-size="12" textLength="52.4" lengthAdjust="spacingAndGlyphs">4.578,395</text><text class="t" x="487.4" y="21" fill="#f23645" stroke="#f23645" font-size="12" textLength="42.4" lengthAdjust="spacingAndGlyphs">−13,830</text><text class="t" x="533.1" y="21" fill="#f23645" stroke="#f23645" font-size="12" textLength="46.0" lengthAdjust="spacingAndGlyphs">(−0,30%)</text>
<rect x="1202.75" y="5.75" width="64" height="26.5" rx="6" fill="#0f0f0f" stroke="#3a3a3a" stroke-width="1.5"/>
<text x="1211.5" y="24" fill="#d1d4dc" font-size="12" font-weight="bold" textLength="22" lengthAdjust="spacingAndGlyphs">USD</text>
<path d="M1200,63 H1263.5 Q1266,63 1266,65.5 V91.5 Q1266,94 1263.5,94 H1200 Z" fill="#f23645"/>
<path d="M1200,94 H1263.5 Q1266,94 1266,96.5 V108.5 Q1266,111 1263.5,111 H1200 Z" fill="#2962ff"/>
<path d="M1200,461 H1249.5 Q1252,461 1252,463.5 V475.5 Q1252,478 1249.5,478 H1200 Z" fill="#ef5350"/>
<text class="t" stroke="#ffffff" x="1261" y="75" text-anchor="end" fill="#ffffff" font-size="12">4.578,395</text>
<text class="t" stroke="rgba(255,255,255,0.85)" x="1208" y="88.8" fill="rgba(255,255,255,0.85)" font-size="12">03:21:04</text>
<text class="t" stroke="#ffffff" x="1261" y="105.8" text-anchor="end" fill="#ffffff" font-size="12">4.574,910</text>
<text x="1207.3" y="473" fill="#ffffff" font-size="12" font-weight="bold" textLength="40" lengthAdjust="spacingAndGlyphs">41,71 K</text>
<circle cx="1177.6" cy="471.5" r="9.8" fill="#0b0b0b" stroke="#b04ac6" stroke-width="1.5"/>
<circle cx="1184" cy="471.1" r="10.3" fill="#0b0b0b" stroke="#e5303f" stroke-width="1.7"/>
<clipPath id="fc"><circle cx="1183.7" cy="470.9" r="8.2"/></clipPath>
<g clip-path="url(#fc)">
<rect x="1175" y="462" width="18" height="18" fill="#f8f8f8"/>
<rect x="1175" y="462" width="18" height="4.4" fill="#ef4b4b"/>
<rect x="1175" y="468.7" width="18" height="3.8" fill="#ef4b4b"/>
<rect x="1175" y="475.2" width="18" height="5" fill="#ef4b4b"/>
<rect x="1175" y="462" width="10.8" height="10.6" fill="#3a86e8"/>
<g fill="#e8eefc"><rect x="1177.5" y="464.2" width="1.2" height="1"/><rect x="1180.3" y="464.2" width="1.2" height="1"/><rect x="1183" y="464.2" width="1.2" height="1"/>
<rect x="1177.5" y="467" width="1.2" height="1"/><rect x="1180.3" y="467" width="1.2" height="1"/><rect x="1183" y="467" width="1.2" height="1"/>
<rect x="1177.5" y="469.8" width="1.2" height="1"/><rect x="1180.3" y="469.8" width="1.2" height="1"/><rect x="1183" y="469.8" width="1.2" height="1"/></g>
</g>

<g fill="#dcdcdc">
<path d="M12,534 H24 V548.7 H17.9 V539.7 H12 Z"/>
<circle cx="28.9" cy="536.9" r="2.95"/>
<path d="M35.3,534 H41.8 L35.9,548.7 H29.1 Z"/>
</g>
<text x="49" y="549" fill="#dcdcdc" font-size="20.5" font-weight="bold">TradingView</text>
</svg>
</body></html>
